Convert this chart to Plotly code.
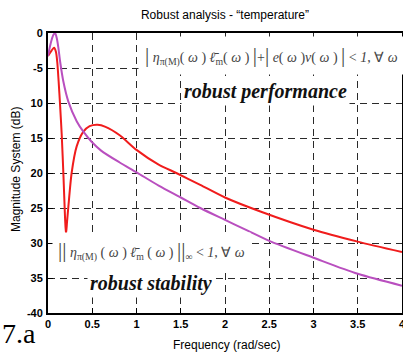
import plotly.graph_objects as go

# Frequency grid (rad/sec) and magnitudes (dB) of the two robustness tests
freq_perf = [0, 0.03, 0.068, 0.09, 0.105, 0.12, 0.136, 0.155, 0.175, 0.192, 0.203,
             0.215, 0.23, 0.267, 0.324, 0.40, 0.47, 0.56, 0.65, 0.81, 1.0, 1.25,
             1.45, 1.72, 2.0, 2.4, 3.0, 3.5, 4.0]
mag_perf = [-3.3, -2.7, -2.1, -2.7, -4.2, -6.9, -10.2, -14.5, -20.5, -26.2, -28.8,
            -27.0, -24.8, -20.0, -16.2, -14.1, -13.3, -13.1, -13.4, -14.6, -16.7, -18.8,
            -20.0, -21.7, -23.5, -25.5, -28.1, -29.8, -31.3]

freq_stab = [0, 0.03, 0.06, 0.08, 0.1, 0.117, 0.136, 0.173, 0.23, 0.324, 0.40, 0.49,
             0.6, 0.81, 1.0, 1.25, 1.5, 1.72, 2.0, 2.25, 2.5, 3.0, 3.5, 4.0]
mag_stab = [-3.3, -1.5, -0.3, 0.0, -0.8, -2.1, -4.0, -6.9, -9.8, -12.6, -14.1, -15.5,
            -16.8, -18.5, -19.9, -21.8, -23.5, -25.0, -26.7, -28.2, -29.7, -32.1, -34.4, -36.1]

x_ticks = [0, 0.5, 1, 1.5, 2, 2.5, 3, 3.5, 4]
x_tick_text = ["0", "0.5", "1", "1.5", "2", "2.5", "3", "3.5", "4"]
y_ticks = [0, -5, -10, -15, -20, -25, -30, -35, -40]
y_tick_text = ["0", "-5", "10", "15", "20", "25", "30", "35", "-40"]

W, H = 403, 352
ML, MR, MT, MB = 48, 1, 33, 39
PW, PH = W - ML - MR, H - MT - MB


def px(xp):
    return (xp - ML) / PW


def py(yp):
    return (H - MB - yp) / PH


fig = go.Figure()
fig.add_trace(go.Scatter(x=freq_perf, y=mag_perf, mode="lines",
                         line=dict(color="#f01c1c", width=2, shape="spline", smoothing=0.7),
                         showlegend=False))
fig.add_trace(go.Scatter(x=freq_stab, y=mag_stab, mode="lines",
                         line=dict(color="#b94fbf", width=2, shape="spline", smoothing=0.8),
                         showlegend=False))

axis_common = dict(
    showline=True, linecolor="black", linewidth=2, mirror=True,
    showgrid=True, gridcolor="#2a2a2a", gridwidth=1.3, griddash="7px,5px",
    ticks="inside", ticklen=5, tickcolor="black", tickwidth=1.3,
    tickfont=dict(family="Liberation Sans, Arial", size=11, color="black", weight="bold"),
    zeroline=False, automargin=False, ticklabeloverflow="allow",
)

fig.update_xaxes(range=[0, 4], tickvals=x_ticks, ticktext=x_tick_text, **axis_common)
fig.update_yaxes(range=[-40, 0], tickvals=y_ticks, ticktext=y_tick_text,
                 ticklabelstandoff=1, **axis_common)

serif = "Liberation Serif, Times New Roman, serif"
bar = '<span style="font-size:21px">|</span>'
dbar = '<span style="font-size:21px">||</span>'
perf_formula = (bar + " <i>η</i><sub>π(M)</sub>( <i>ω</i> ) <i>ℓ̄</i><sub>m</sub>( <i>ω</i> ) "
                + bar + "+" + bar + " <i>e</i>( <i>ω</i> )<i>v</i>( <i>ω</i> ) " + bar
                + " &lt; <i>1</i>, ∀ <i>ω</i>")
stab_formula = (dbar + " <i>η</i><sub>π(M)</sub> ( <i>ω</i> ) <i>ℓ̄</i><sub>m</sub> ( <i>ω</i> ) "
                + dbar + "<sub>∞</sub> &lt; <i>1</i>, ∀ <i>ω</i>")

annotations = [
    dict(x=px(271), y=py(55), text=perf_formula, font=dict(family=serif, size=14, color="#444"),
         bgcolor="white", borderpad=6),
    dict(x=px(265), y=py(91), text="<b><i>robust performance</i></b>",
         font=dict(family=serif, size=20, color="#111"), bgcolor="white", borderpad=2),
    dict(x=px(151), y=py(250), text=stab_formula, font=dict(family=serif, size=14, color="#444"),
         bgcolor="white", borderpad=5),
    dict(x=px(151), y=py(283), text="<b><i>robust stability</i></b>",
         font=dict(family=serif, size=20, color="#111"), bgcolor="white", borderpad=2),
    dict(x=px(0), y=py(333), text="7.a", xanchor="left",
         font=dict(family=serif, size=28, color="black")),
    dict(x=px(227), y=py(345), text="Frequency (rad/sec)",
         font=dict(family="Liberation Sans, Arial", size=12, color="black")),
    dict(x=px(16), y=py(170), text="Magnitude System (dB)", textangle=-90,
         font=dict(family="Liberation Sans, Arial", size=12, color="black")),
]
for a in annotations:
    a.update(xref="paper", yref="paper", showarrow=False)
    a.setdefault("xanchor", "center")
    a.setdefault("yanchor", "middle")

fig.update_layout(
    template="none",
    width=W, height=H,
    margin=dict(l=ML, r=MR, t=MT, b=MB),
    paper_bgcolor="white", plot_bgcolor="white",
    title=dict(text="Robust analysis - “temperature”", x=0.5, xref="paper",
               y=1 - 15 / H, yref="container", yanchor="middle", xanchor="center",
               font=dict(family="Liberation Sans, Arial", size=12, color="black")),
    annotations=annotations,
)

fig.write_html("out.html")
